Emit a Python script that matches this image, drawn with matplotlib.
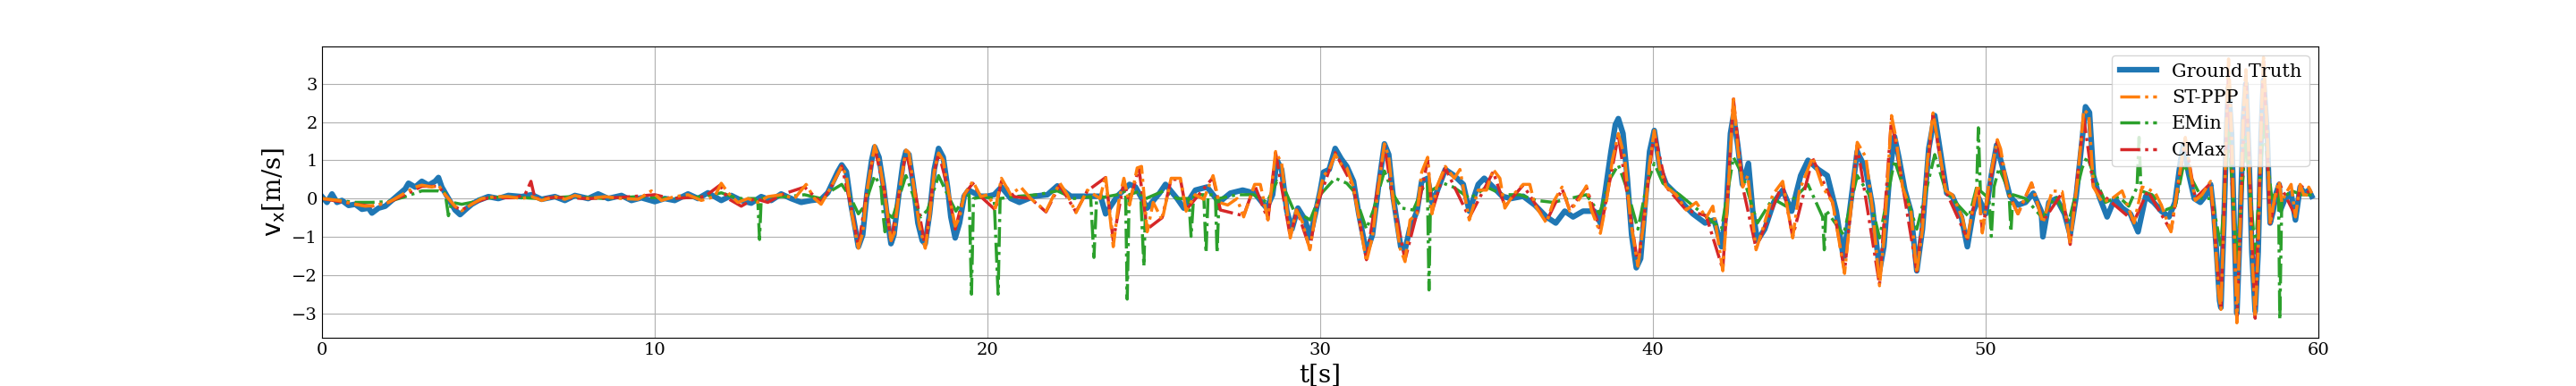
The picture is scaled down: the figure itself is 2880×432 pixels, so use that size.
import matplotlib
matplotlib.use("Agg")
from matplotlib import pyplot as plt

# ground truth velocity (keypoints)
t_gt = [0.0, 0.15, 0.3, 0.45, 0.6, 0.8, 1.0, 1.2, 1.4, 1.5, 1.7, 1.9, 2.1, 2.3, 2.5, 2.6, 2.8, 3.0,
        3.2, 3.4, 3.5, 3.6, 3.8, 4.0, 4.15, 4.3, 4.5, 4.7, 5.0, 5.3, 5.6, 6.0, 6.3, 6.6, 7.0, 7.3,
        7.6, 8.0, 8.3, 8.6, 9.0, 9.3, 9.6, 10.0, 10.3, 10.6, 11.0, 11.3, 11.6, 12.0, 12.3, 12.6,
        12.9, 13.2, 13.5, 13.8, 14.1, 14.4, 14.7, 15.0, 15.2, 15.5, 15.62, 15.76, 15.9, 16.03,
        16.12, 16.25, 16.38, 16.52, 16.61, 16.74, 16.88, 17.01, 17.1, 17.19, 17.32, 17.46, 17.55,
        17.64, 17.77, 17.91, 18.04, 18.13, 18.26, 18.4, 18.53, 18.67, 18.8, 18.9, 19.03, 19.16,
        19.3, 19.43, 19.61, 19.8, 20.0, 20.2, 20.42, 20.7, 20.96, 21.4, 21.8, 22.1, 22.5, 23.0,
        23.4, 23.55, 23.9, 24.27, 24.45, 24.8, 25.17, 25.35, 25.7, 25.9, 26.25, 26.6, 26.96, 27.3,
        27.67, 28.03, 28.39, 28.57, 28.7, 28.84, 29.0, 29.15, 29.33, 29.55, 29.69, 29.87, 30.0,
        30.1, 30.27, 30.45, 30.63, 30.8, 31.0, 31.16, 31.39, 31.57, 31.75, 31.93, 32.06, 32.2,
        32.42, 32.55, 32.69, 32.91, 33.05, 33.23, 33.36, 33.49, 33.76, 34.03, 34.3, 34.48, 34.75,
        34.93, 35.2, 35.47, 35.73, 36.1, 36.45, 36.8, 37.08, 37.35, 37.6, 37.9, 38.24, 38.42,
        38.56, 38.74, 38.87, 38.96, 39.1, 39.23, 39.36, 39.5, 39.63, 39.77, 39.9, 40.04, 40.21,
        40.4, 40.67, 40.94, 41.2, 41.57, 41.84, 42.06, 42.2, 42.33, 42.42, 42.55, 42.69, 42.87,
        43.0, 43.14, 43.36, 43.63, 43.9, 44.17, 44.44, 44.66, 44.97, 45.24, 45.51, 45.73, 45.96,
        46.14, 46.4, 46.59, 46.81, 46.94, 47.12, 47.26, 47.39, 47.57, 47.75, 47.93, 48.1, 48.29,
        48.47, 48.65, 48.83, 49.0, 49.27, 49.45, 49.63, 49.8, 50.0, 50.17, 50.33, 50.5, 50.73,
        50.97, 51.2, 51.43, 51.67, 51.72, 51.9, 52.13, 52.37, 52.54, 52.72, 52.9, 53.0, 53.12,
        53.24, 53.41, 53.65, 53.88, 54.11, 54.35, 54.58, 54.81, 55.05, 55.28, 55.51, 55.69, 55.86,
        55.95, 56.09, 56.27, 56.45, 56.67, 56.76, 56.85, 56.94, 57.03, 57.07, 57.16, 57.25, 57.3,
        57.39, 57.48, 57.55, 57.65, 57.74, 57.82, 57.92, 58.0, 58.1, 58.19, 58.28, 58.35, 58.46,
        58.55, 58.64, 58.73, 58.82, 58.86, 59.0, 59.18, 59.31, 59.45, 59.58, 59.71, 59.8]
v_gt = [0.05, -0.1, 0.12, -0.1, -0.05, -0.18, -0.15, -0.28, -0.25, -0.38, -0.25, -0.2, -0.05, 0.1,
        0.25, 0.4, 0.3, 0.45, 0.35, 0.45, 0.55, 0.3, 0.0, -0.3, -0.42, -0.3, -0.15, -0.05, 0.05,
        0.0, 0.08, 0.05, 0.1, -0.02, 0.05, -0.05, 0.08, 0.0, 0.12, 0.0, 0.08, -0.05, 0.02, -0.08,
        0.0, -0.05, 0.12, 0.0, 0.15, -0.05, 0.08, -0.05, -0.12, 0.05, -0.05, 0.12, 0.0, -0.1,
        -0.05, -0.02, 0.15, 0.7, 0.88, 0.7, -0.17, -0.8, -1.26, -0.95, 0.14, 1.0, 1.35, 1.08, 0.3,
        -0.64, -1.18, -0.95, 0.0, 0.92, 1.23, 1.15, 0.37, -0.64, -1.1, -1.18, -0.4, 0.76, 1.31,
        1.08, 0.3, -0.48, -1.03, -0.64, 0.06, 0.22, 0.14, 0.06, 0.06, 0.1, 0.3, 0.0, -0.1, 0.06,
        0.1, 0.33, 0.06, 0.06, 0.06, -0.4, 0.06, 0.37, 0.3, -0.25, 0.14, 0.37, 0.0, -0.25, 0.22,
        0.3, -0.1, 0.14, 0.22, 0.14, -0.25, 0.1, 1.0, 0.76, -0.33, -0.8, -0.25, -0.56, -1.03,
        -0.33, 0.2, 0.69, 0.76, 1.31, 1.04, 0.84, 0.45, -0.4, -1.42, -0.95, 0.3, 1.43, 1.15, 0.0,
        -1.26, -1.34, -0.8, -0.33, 0.45, 0.53, -0.1, 0.14, 0.76, 0.6, 0.37, -0.33, 0.37, 0.53,
        0.3, 0.06, 0.0, 0.06, -0.17, -0.48, -0.64, -0.33, -0.48, -0.33, -0.33, -0.64, 0.14, 1.23,
        1.93, 2.09, 1.7, 0.53, -0.95, -1.81, -1.57, -0.1, 1.23, 1.78, 0.8, 0.37, 0.14, -0.17,
        -0.4, -0.64, -0.56, -1.26, -0.33, 1.7, 2.17, 1.39, 0.37, 0.92, -0.33, -1.1, -0.8, -0.1,
        0.22, -0.33, 0.6, 1.0, 0.76, 0.6, -0.33, -1.57, 0.0, 1.23, 0.76, -0.17, -1.89, -1.26,
        0.69, 1.62, 1.08, 0.22, -0.33, -1.89, -0.8, 1.31, 2.17, 1.15, 0.14, 0.06, -0.48, -1.26,
        -0.33, 0.0, -0.4, 0.6, 1.4, 0.84, 0.06, -0.17, -0.1, 0.14, -0.33, -1.0, -0.1, 0.0, -0.4,
        -0.95, 0.06, 1.54, 2.4, 2.25, 0.6, 0.06, -0.48, 0.0, -0.25, -0.4, -0.87, 0.06, -0.1,
        -0.33, -0.48, -0.1, 1.0, 1.4, 0.69, 0.0, -0.1, 0.14, 0.37, -0.3, -1.42, -2.67, -2.85,
        -0.6, 2.0, 2.9, 1.7, -1.0, -3.0, -0.64, 2.0, 3.0, 0.9, -1.4, -2.95, -1.4, 1.7, 3.1, 1.7,
        -0.64, -0.33, 0.14, 0.37, -0.3, 0.0, 0.14, -0.56, 0.3, 0.14, 0.22, 0.06]

# ST-PPP estimate
t_st = [0.0, 0.5, 1.0, 1.3, 1.6, 2.0, 2.4, 2.8, 3.0, 3.3, 3.5, 3.7, 4.0, 4.2, 4.5, 4.8, 5.2, 5.6,
        6.0, 6.3, 6.6, 7.0, 7.3, 7.6, 8.0, 8.5, 9.0, 9.5, 9.9, 10.2, 10.6, 11.0, 11.4, 11.8, 12.0,
        12.2, 12.5, 12.8, 13.1, 13.4, 13.8, 14.2, 14.55, 14.8, 15.0, 15.3, 15.62, 15.76, 15.9,
        16.12, 16.25, 16.38, 16.61, 16.74, 16.9, 17.1, 17.2, 17.32, 17.55, 17.64, 17.77, 17.95,
        18.13, 18.26, 18.4, 18.53, 18.67, 18.8, 19.03, 19.16, 19.3, 19.56, 19.8, 20.0, 20.24,
        20.42, 20.7, 21.0, 21.3, 21.76, 22.17, 22.4, 22.66, 23.0, 23.38, 23.55, 23.78, 23.96,
        24.1, 24.27, 24.5, 24.63, 24.8, 24.98, 25.25, 25.52, 25.8, 25.97, 26.24, 26.5, 26.78,
        26.96, 27.22, 27.5, 27.7, 28.03, 28.2, 28.43, 28.66, 28.84, 29.1, 29.28, 29.46, 29.69,
        29.9, 30.1, 30.27, 30.45, 30.63, 30.8, 31.0, 31.16, 31.39, 31.57, 31.75, 31.93, 32.06,
        32.2, 32.4, 32.55, 32.7, 32.91, 33.05, 33.23, 33.36, 33.5, 33.76, 34.03, 34.2, 34.48,
        34.75, 35.0, 35.2, 35.4, 35.55, 35.8, 36.1, 36.3, 36.45, 36.8, 37.0, 37.27, 37.5, 37.8,
        38.0, 38.15, 38.42, 38.6, 38.78, 38.96, 39.15, 39.33, 39.55, 39.77, 39.9, 40.04, 40.2,
        40.4, 40.7, 41.0, 41.3, 41.6, 41.8, 42.1, 42.25, 42.42, 42.55, 42.7, 42.85, 43.1, 43.3,
        43.6, 43.9, 44.2, 44.4, 44.8, 45.1, 45.4, 45.76, 45.96, 46.14, 46.4, 46.6, 46.81, 46.95,
        47.17, 47.3, 47.5, 47.75, 47.93, 48.1, 48.25, 48.42, 48.6, 48.8, 49.0, 49.3, 49.45, 49.6,
        49.77, 49.9, 50.1, 50.35, 50.45, 50.68, 50.97, 51.38, 51.72, 52.0, 52.3, 52.54, 52.75,
        52.95, 53.1, 53.24, 53.5, 53.8, 54.1, 54.46, 54.7, 54.87, 55.1, 55.28, 55.57, 55.86,
        56.0, 56.15, 56.3, 56.5, 56.76, 56.85, 57.0, 57.07, 57.16, 57.25, 57.3, 57.39, 57.48,
        57.55, 57.65, 57.74, 57.82, 57.92, 58.0, 58.1, 58.19, 58.28, 58.35, 58.46, 58.55, 58.64,
        58.73, 58.82, 58.9, 59.0, 59.18, 59.31, 59.45, 59.6, 59.71, 59.8]
v_st = [0.0, -0.05, -0.15, -0.2, -0.18, -0.1, 0.1, 0.3, 0.35, 0.3, 0.35, 0.1, -0.2, -0.32, -0.15,
        0.0, 0.05, 0.05, 0.0, 0.05, -0.05, 0.05, -0.02, 0.08, 0.0, 0.05, 0.0, -0.02, 0.2, -0.05,
        0.05, 0.1, -0.05, 0.05, 0.4, 0.15, -0.1, 0.0, -0.1, 0.05, 0.1, 0.0, 0.37, 0.0, -0.15, 0.3,
        0.84, 0.6, -0.3, -1.3, -0.9, 0.2, 1.39, 1.0, 0.2, -1.1, -0.9, 0.0, 1.27, 1.2, 0.4, -0.7,
        -1.3, -0.5, 0.7, 1.19, 1.0, 0.3, -0.72, -0.5, 0.1, 0.45, 0.05, 0.1, -0.25, 0.53, 0.1, 0.3,
        0.0, -0.33, 0.41, 0.1, -0.37, 0.22, 0.0, 0.6, -1.26, 0.0, 0.53, -0.17, 0.8, 0.84, -0.87,
        -0.1, -0.56, 0.53, 0.53, -0.33, 0.1, -0.02, 0.6, -0.1, -0.17, 0.0, -0.48, 0.37, 0.37,
        -0.56, 1.23, 0.92, -1.03, -0.3, -0.6, -1.34, -0.17, 0.6, 0.75, 1.15, 0.9, 0.8, 0.3, -0.5,
        -1.65, -1.0, 0.3, 1.43, 1.1, -0.1, -1.3, -1.65, -0.56, -0.4, 0.69, 1.08, -0.4, 0.3, 0.84,
        0.53, 0.76, -0.56, 0.22, 0.22, 0.76, 0.53, -0.25, 0.1, 0.37, 0.37, -0.17, -0.64, -0.1,
        0.3, -0.33, 0.0, 0.33, -0.3, -0.91, -0.1, 1.0, 1.7, 1.08, -0.6, -1.77, -0.33, 0.92, 1.78,
        0.8, 0.3, 0.1, -0.3, -0.1, -0.5, -0.2, -1.89, 0.0, 2.67, 1.3, 0.3, 0.6, -1.34, -0.8, 0.1,
        0.45, -1.03, 0.2, 1.08, 0.3, -0.1, -1.96, -0.2, 1.47, 1.08, -0.3, -2.28, -1.0, 2.17, 1.6,
        0.3, -0.3, -1.96, -0.8, 1.0, 2.24, 1.3, 0.2, 0.1, -0.5, -1.1, -0.3, 0.37, -0.9, 0.4, 1.54,
        1.3, 0.14, -0.4, 0.41, -0.64, 0.2, 0.18, -1.18, 0.4, 2.32, 2.2, 0.3, -0.1, 0.0, 0.2,
        -0.64, 0.3, 0.26, 0.14, -0.17, -0.87, 0.84, 1.6, 0.7, -0.05, 0.1, 0.45, -0.4, -2.5, -2.9,
        -0.6, 2.48, 3.65, 1.8, -1.1, -3.25, -0.64, 2.2, 3.37, 0.9, -1.4, -3.1, -1.4, 2.0, 3.69,
        1.8, -0.68, -0.2, 0.2, 0.45, -0.1, 0.1, 0.37, -0.48, 0.37, 0.0, 0.3, 0.14]

# EMin estimate
t_em = [0.0, 0.5, 1.0, 1.5, 2.0, 2.5, 3.0, 3.5, 3.7, 3.8, 3.9, 4.2, 4.5, 4.8, 5.5, 6.5, 7.5, 8.5,
        9.5, 10.5, 11.5, 12.0, 12.5, 13.0, 13.1, 13.15, 13.2, 13.5, 14.0, 14.5, 15.0, 15.3, 15.62,
        15.9, 16.12, 16.3, 16.61, 16.8, 16.88, 16.92, 17.0, 17.15, 17.55, 17.8, 18.0, 18.2, 18.53,
        18.8, 19.05, 19.3, 19.45, 19.52, 19.58, 19.9, 20.2, 20.32, 20.38, 20.8, 21.5, 22.1, 22.6,
        23.1, 23.2, 23.28, 23.9, 24.15, 24.2, 24.26, 24.6, 24.7, 24.76, 25.3, 25.7, 26.05, 26.12,
        26.2, 26.5, 26.57, 26.63, 26.85, 26.9, 26.96, 27.5, 28.0, 28.4, 28.7, 28.9, 29.2, 29.7,
        30.0, 30.45, 30.8, 31.0, 31.39, 31.6, 31.93, 32.2, 32.45, 32.8, 33.1, 33.22, 33.27, 33.32,
        33.7, 34.0, 34.5, 35.0, 35.5, 36.0, 36.5, 37.0, 37.5, 38.0, 38.4, 38.7, 38.96, 39.2, 39.55,
        39.8, 40.04, 40.3, 40.8, 41.5, 42.06, 42.42, 42.7, 43.14, 43.6, 44.0, 44.66, 45.1, 45.15,
        45.2, 45.73, 46.14, 46.5, 46.81, 47.26, 47.6, 47.93, 48.47, 48.8, 49.2, 49.5, 49.73,
        49.78, 49.84, 50.1, 50.17, 50.25, 50.4, 50.7, 50.76, 50.82, 51.2, 51.7, 52.1, 52.5, 52.9,
        53.05, 53.3, 53.6, 54.0, 54.3, 54.55, 54.61, 54.67, 55.0, 55.4, 55.7, 55.95, 56.2, 56.5,
        56.8, 57.07, 57.3, 57.55, 57.82, 58.1, 58.35, 58.6, 58.8, 58.84, 58.9, 59.2, 59.5, 59.8]
v_em = [0.0, -0.05, -0.1, -0.1, -0.08, 0.05, 0.2, 0.2, 0.15, -0.45, -0.1, -0.15, -0.1, 0.0, 0.05,
        0.0, 0.05, 0.0, 0.05, 0.0, 0.05, 0.15, 0.0, 0.0, -0.1, -1.07, 0.0, 0.05, 0.05, 0.1, 0.0,
        0.2, 0.37, 0.0, -0.4, -0.2, 0.6, 0.3, -0.56, -0.87, -0.4, -0.5, 0.6, 0.0, -0.48, -0.3,
        0.6, 0.1, -0.33, 0.0, 0.1, -2.5, 0.0, 0.05, 0.0, -2.5, 0.0, 0.05, 0.1, 0.2, 0.0, 0.05,
        -1.54, 0.0, 0.1, 0.2, -2.63, 0.1, 0.2, -1.77, 0.0, 0.2, 0.0, 0.0, -0.99, 0.1, 0.1, -1.42,
        0.1, 0.1, -1.42, 0.0, 0.1, 0.1, -0.1, 0.45, 0.3, -0.3, -0.56, 0.1, 0.53, 0.4, 0.2, -0.8,
        -0.3, 0.72, 0.1, -0.25, -0.3, 0.3, 0.4, -2.39, 0.2, 0.4, 0.3, 0.0, 0.3, 0.1, 0.1, -0.05,
        -0.1, 0.0, 0.1, -0.4, 0.5, 0.88, 0.3, -0.8, 0.3, 0.92, 0.4, 0.1, -0.4, -0.8, 1.08, 0.6,
        -0.64, 0.0, -0.2, 0.37, -0.48, -1.34, -0.3, -0.95, 0.6, 0.1, -1.03, 1.0, 0.1, -0.8, 1.15,
        0.2, -0.2, -0.48, 0.3, 1.85, 0.2, 0.0, -0.99, 0.3, 0.8, 0.2, -0.87, 0.1, 0.0, -0.5, 0.05,
        -0.6, 0.8, 1.1, 0.5, -0.1, 0.05, -0.2, 0.3, 1.6, 0.2, 0.1, -0.3, -0.2, 0.9, 0.5, 0.0, 0.0,
        -1.26, 1.78, -1.57, 1.6, -1.42, 1.93, 0.0, 0.3, -3.17, 0.0, 0.2, 0.1, 0.1]

# CMax estimate
t_cm = [0.0, 1.0, 1.5, 2.0, 2.5, 3.0, 3.5, 4.0, 4.2, 4.6, 5.0, 5.8, 6.1, 6.28, 6.4, 7.0, 8.0, 9.0,
        10.0, 10.5, 11.5, 11.96, 12.2, 12.6, 13.0, 13.4, 13.8, 14.5, 15.0, 15.3, 15.62, 15.9,
        16.12, 16.38, 16.61, 16.9, 17.1, 17.32, 17.55, 17.8, 18.13, 18.4, 18.53, 18.8, 19.03,
        19.3, 19.56, 19.8, 20.24, 20.42, 20.8, 21.3, 21.76, 22.17, 22.66, 23.0, 23.55, 23.78,
        24.1, 24.27, 24.55, 24.8, 25.25, 25.52, 25.8, 25.97, 26.78, 27.0, 27.7, 28.03, 28.43,
        28.66, 29.1, 29.3, 29.69, 29.9, 30.45, 31.0, 31.39, 31.93, 32.2, 32.55, 32.9, 33.23,
        33.36, 33.76, 34.48, 35.2, 35.55, 36.1, 36.8, 37.27, 37.5, 38.0, 38.42, 38.96, 39.55,
        40.04, 40.4, 41.0, 41.6, 42.1, 42.42, 42.7, 43.1, 43.9, 44.2, 44.8, 45.4, 45.76, 46.14,
        46.81, 47.17, 47.93, 48.42, 48.8, 49.45, 49.77, 49.9, 50.35, 50.68, 50.97, 51.38, 51.72,
        52.3, 52.54, 52.95, 53.24, 54.46, 54.87, 55.57, 56.0, 56.3, 56.76, 57.07, 57.3, 57.55,
        57.82, 58.1, 58.35, 58.55, 58.82, 59.31, 59.45, 59.8]
v_cm = [0.0, -0.15, -0.2, -0.1, 0.1, 0.32, 0.32, -0.22, -0.3, -0.1, 0.02, 0.02, 0.1, 0.45, 0.0,
        0.03, 0.0, 0.03, 0.1, 0.0, 0.05, 0.35, 0.0, -0.2, 0.0, -0.1, 0.1, 0.3, -0.1, 0.3, 0.85,
        -0.2, -1.25, 0.2, 1.35, 0.2, -1.15, 0.0, 1.25, 0.3, -1.25, 0.7, 1.2, 0.3, -0.8, 0.1, 0.4,
        0.05, -0.3, 0.45, 0.05, 0.0, -0.35, 0.35, -0.35, 0.2, 0.55, -1.1, 0.45, -0.1, 0.8, -0.8,
        -0.5, 0.5, 0.5, -0.3, 0.55, -0.3, -0.45, 0.35, -0.55, 1.2, -1.0, -0.3, -1.3, -0.2, 1.2,
        0.3, -1.6, 1.4, -0.1, -1.6, -0.4, 1.0, -0.35, 0.8, -0.5, 0.7, -0.2, 0.35, -0.6, 0.25,
        -0.3, 0.3, -0.85, 1.65, -1.75, 1.75, 0.3, -0.3, -0.45, -1.85, 2.6, 0.3, -1.3, 0.4, -1.0,
        1.05, -0.1, -1.9, 1.4, -2.25, 2.1, -1.9, 2.2, 0.2, -1.05, 0.35, -0.85, 1.5, 0.14, -0.4,
        0.4, -0.6, 0.15, -1.2, 2.1, 0.3, -0.6, 0.2, -0.85, 1.55, 0.0, 0.4, -2.85, 3.4, -3.2, 3.3,
        -3.13, 3.6, -0.65, 0.4, -0.45, 0.35, 0.1]

plt.rcParams['font.family'] = 'DejaVu Serif'
plt.rcParams['mathtext.fontset'] = 'dejavusans'

fig, ax = plt.subplots(figsize=(28.8, 4.32), dpi=100)
fig.subplots_adjust(left=0.125, right=0.9, top=0.88, bottom=0.125)

gt, = ax.plot(t_gt, v_gt, color='tab:blue', lw=4.5, label='Ground Truth')
em, = ax.plot(t_em, v_em, '-.', color='tab:green', lw=2.5, label='EMin')
cm, = ax.plot(t_cm, v_cm, '-.', color='tab:red', lw=2.5, label='CMax')
st, = ax.plot(t_st, v_st, '-.', color='tab:orange', lw=2.5, label='ST-PPP')

ax.set_xlim(0, 60)
ax.set_ylim(-3.64, 3.98)
ax.set_yticks([-3, -2, -1, 0, 1, 2, 3])
ax.grid(True)
ax.tick_params(labelsize=14, length=0)
ax.set_xlabel('t[s]', fontsize=20)
ax.set_ylabel(r'$\mathrm{v_x}$[m/s]', fontsize=20)
ax.legend(handles=[gt, st, em, cm], loc='upper right', fontsize=15)

plt.savefig('out.png', dpi=100)
plt.close()
